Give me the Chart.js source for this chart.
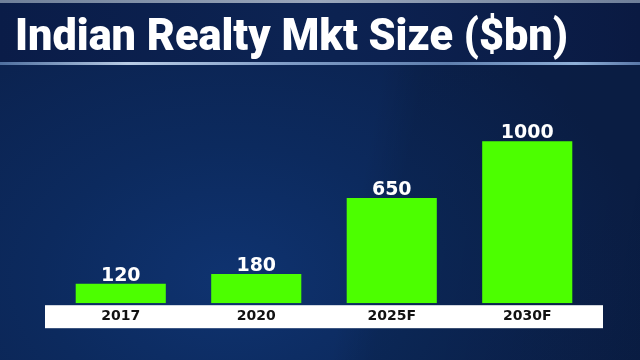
<!DOCTYPE html>
<html>
<head>
<meta charset="utf-8">
<script src="https://cdn.jsdelivr.net/npm/chart.js@4.4.1/dist/chart.umd.min.js"></script>
<style>
  html, body { margin: 0; padding: 0; width: 640px; height: 360px; overflow: hidden; }
  body {
    position: relative;
    background:
      linear-gradient(100deg, rgba(0,0,0,0) 0%, rgba(0,0,0,0) 56%, rgba(0,0,0,0.1) 62%, rgba(0,0,0,0.14) 100%),
      radial-gradient(ellipse 420px 300px at 230px 280px, #0f3370 0%, #0c2a5e 45%, #0b214d 100%);
    background-color: #0b214d;
  }
  #topline { position: absolute; left: 0; top: 0; width: 640px; height: 3px;
    background: linear-gradient(90deg, #6f7f99, #9aa7bb 50%, #6f7f99); }
  #band { position: absolute; left: 0; top: 3px; width: 640px; height: 59px;
    background: linear-gradient(90deg, #0a1c48 0%, #0c2352 45%, #0c2150 60%, #0a1a42 100%); }
  #line { position: absolute; left: 0; top: 62px; width: 640px; height: 3px;
    background: linear-gradient(90deg, #4f6f9f 0%, #b9cde6 20%, #7f9cc6 45%, #5f7fae 70%, #8fb0d8 90%, #5a78a8 100%); }
  #title { position: absolute; left: 15px; top: 9px; margin: 0; color: #ffffff;
    font-family: Roboto, "Open Sans", sans-serif; font-weight: 900; font-size: 44px; line-height: 52px;
    white-space: nowrap; transform-origin: 0 0; z-index: 3; }
  #c { position: absolute; left: 0; top: 0; z-index: 2; }
</style>
</head>
<body>
<div id="topline"></div>
<div id="band"></div>
<div id="line"></div>
<div id="title">Indian Realty Mkt Size ($bn)</div>
<canvas id="c" width="640" height="360"></canvas>
<script>
const titleText = "Indian Realty Mkt Size ($bn)";
const categories = ["2017", "2020", "2025F", "2030F"];
const marketSize = [120, 180, 650, 1000];

// fit title width to reference
(function () {
  const t = document.getElementById('title');
  t.textContent = titleText;
  const w = t.getBoundingClientRect().width;
  t.style.transform = 'scaleX(' + (553 / w) + ')';
})();

const bandPlugin = {
  id: 'band',
  beforeDraw(chart) {
    const { ctx, chartArea } = chart;
    ctx.save();
    ctx.fillStyle = '#ffffff';
    ctx.fillRect(chartArea.left - 8, chartArea.bottom + 2, (chartArea.right - chartArea.left) + 16, 23);
    ctx.restore();
  }
};

const valueLabels = {
  id: 'valueLabels',
  afterDatasetsDraw(chart) {
    const { ctx } = chart;
    const meta = chart.getDatasetMeta(0);
    ctx.save();
    ctx.fillStyle = '#ffffff';
    ctx.font = 'bold 19px "DejaVu Sans", sans-serif';
    ctx.textAlign = 'center';
    ctx.textBaseline = 'alphabetic';
    meta.data.forEach((bar, i) => {
      ctx.fillText(String(chart.data.datasets[0].data[i]), bar.x, bar.y - 3);
    });
    ctx.restore();
  }
};

new Chart(document.getElementById('c'), {
  type: 'bar',
  data: {
    labels: categories,
    datasets: [{
      data: marketSize,
      backgroundColor: '#4cff00',
      borderWidth: 0,
      categoryPercentage: 1,
      barPercentage: 0.665
    }]
  },
  options: {
    responsive: false,
    animation: false,
    events: [],
    layout: { padding: { left: 53, right: 45, top: 125, bottom: 30 } },
    plugins: { legend: { display: false }, title: { display: false }, tooltip: { enabled: false } },
    scales: {
      x: {
        grid: { display: false, drawTicks: false },
        border: { display: false },
        ticks: { color: '#111111', padding: 5, font: { family: '"DejaVu Sans", sans-serif', size: 14, weight: 'bold' } }
      },
      y: { display: false, min: 0, max: 1100 }
    }
  },
  plugins: [bandPlugin, valueLabels]
});
</script>
</body>
</html>
